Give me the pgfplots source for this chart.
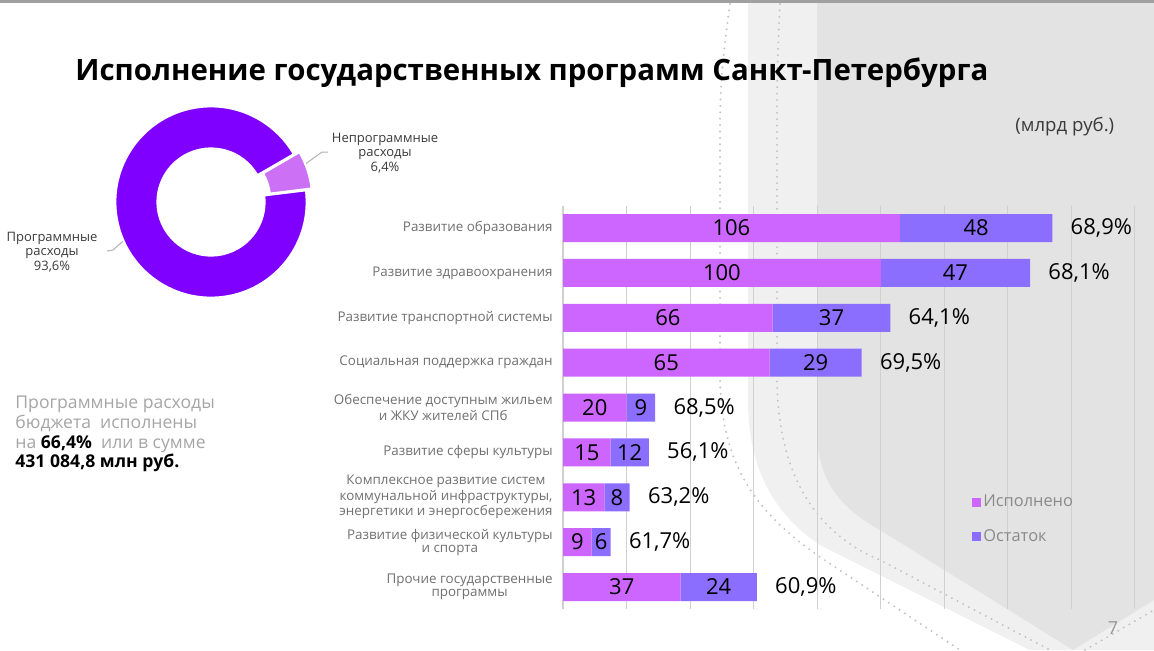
\documentclass[border=0pt]{standalone}
\usepackage{pgfplots}
\pgfplotsset{compat=1.18}
\usepackage{pgfplotstable}
\usepackage{fontspec}
\setmainfont{Open Sans}
\definecolor{cDone}{HTML}{CC66FF}
\definecolor{cRest}{HTML}{8C6EFF}
\definecolor{cMain}{HTML}{7F00FF}
\definecolor{cNon}{HTML}{CC70F5}
\definecolor{bgLight}{HTML}{F0F0F0}
\definecolor{bgDark}{HTML}{E3E3E3}
\definecolor{gridc}{HTML}{D0D0D0}
\definecolor{labc}{HTML}{707070}
\definecolor{textgray}{HTML}{A6A6A6}
\definecolor{legc}{HTML}{8A8A8A}
\definecolor{darkc}{HTML}{3A3A3A}
\definecolor{dotc}{HTML}{C4C4C4}
\definecolor{topbar}{HTML}{A0A0A0}

\pgfplotstableread{
idx done rest pct
0 106 48 68.9
1 100 47 68.1
2 66 37 64.1
3 65 29 69.5
4 20 9 68.5
5 15 12 56.1
6 13 8 63.2
7 9 6 61.7
8 37 24 60.9
}\progdata

\def\pctNon{6.4}
\def\pctProg{93.6}

\pgfplotsset{barframe/.style={
  at={(281.5pt,-102.78pt)}, anchor=north west,
  scale only axis, width=295.5pt, height=201.94pt,
  xmin=0, xmax=186, ymin=-0.5, ymax=8.5, y dir=reverse,
  /pgf/number format/assume math mode=true,
}}

\begin{document}
\begin{tikzpicture}
% ---------- background (pixel coordinates, y down) ----------
\begin{scope}[x=0.5pt, y=-0.5pt]
\fill[white] (0,0) rectangle (1154,650);
\fill[bgLight] (748,0) -- (748,400) .. controls (748,470) and (775,515) .. (820,545) -- (1030,650) -- (1154,650) -- (1154,0) -- cycle;
\fill[bgDark] (817,0) -- (817,430) .. controls (817,480) and (840,508) .. (880,530) -- (1073,650) -- (1154,600) -- (1154,0) -- cycle;
\draw[dotc, line width=1.1pt, line cap=round, dash pattern=on 0pt off 3.2pt]
  (730,4) .. controls (722,60) and (720,90) .. (720,130) -- (720,380) .. controls (722,470) and (760,515) .. (820,557) -- (960,650);
\draw[dotc, line width=1.1pt, line cap=round, dash pattern=on 0pt off 3.2pt]
  (780,4) .. controls (777,60) and (777,90) .. (777,130) -- (777,380) .. controls (778,480) and (820,535) .. (880,560) -- (1050,650);
\draw[dotc, line width=1.1pt, line cap=round, dash pattern=on 0pt off 3.2pt]
  (1085,650) -- (1154,610);
\fill[topbar] (0,0) rectangle (1154,3);

% ---------- texts ----------
\node[anchor=base west, inner sep=0pt, font=\fontsize{14.7}{18}\selectfont\bfseries] at (75,80)
  {Исполнение государственных программ Санкт-Петербурга};
\node[anchor=base west, inner sep=0pt, font=\fontsize{9.3}{10}\selectfont, text=darkc] at (1015,131) {(млрд руб.)};

\node[align=center, inner sep=0pt, font=\fontsize{6.5}{7.25}\selectfont, text=darkc] at (385,153)
  {Непрограммные\\расходы\\6,4\%};
\node[align=center, inner sep=0pt, font=\fontsize{6.5}{7.25}\selectfont, text=darkc] at (52,252)
  {Программные\\расходы\\93,6\%};
\draw[gray!60, line width=0.5pt] (290,175) -- (322,152) -- (328,152);
\draw[gray!60, line width=0.5pt] (140,226) -- (113,250) -- (107,251);

\begin{scope}[every node/.style={anchor=base west, inner sep=0pt, font=\fontsize{8.8}{10}\selectfont, text=textgray}]
\node at (15,408) {Программные расходы};
\node at (15,428) {бюджета\ \ исполнены};
\node at (15,448) {на \textcolor{black}{\bfseries 66,4\%}\ \ или в сумме};
\node at (15,467) {\textcolor{black}{\bfseries 431 084,8 млн руб.}};
\end{scope}

\node[inner sep=0pt, font=\fontsize{9}{10}\selectfont, text=gray!80] at (1113,628) {7};
\end{scope}

% ---------- donut ----------
\begin{scope}[shift={(105.5pt,-101pt)}]
\pgfmathsetmacro\aS{7}
\pgfmathsetmacro\aE{\aS+\pctNon*3.6}
\pgfmathsetmacro\aM{(\aS+\aE)/2}
\pgfmathsetmacro\aF{\aE+\pctProg*3.6}
\fill[cMain, draw=white, line width=1pt] (\aE:26.8pt) arc[start angle=\aE, end angle=\aF, radius=26.8pt]
   -- (\aF:47.8pt) arc[start angle=\aF, end angle=\aE, radius=47.8pt] -- cycle;
\begin{scope}[shift={(\aM:3pt)}]
\fill[cNon, draw=white, line width=1pt] (\aS:26.8pt) arc[start angle=\aS, end angle=\aE, radius=26.8pt]
   -- (\aE:47.8pt) arc[start angle=\aE, end angle=\aS, radius=47.8pt] -- cycle;
\end{scope}
\end{scope}

% ---------- bars ----------
\begin{axis}[barframe,
  xbar stacked, bar width=14pt,
  axis lines*=left,
  x axis line style={draw=none},
  y axis line style={draw=gridc, line width=0.6pt},
  xtick={0,20,...,180}, xticklabels={},
  xmajorgrids, major grid style={draw=gridc, line width=0.5pt},
  major tick length=0pt, tick style={draw=none},
  ytick={0,...,8},
  yticklabels={{Развитие образования},{Развитие здравоохранения},{Развитие транспортной системы},{Социальная поддержка граждан},{Обеспечение доступным жильем\\и ЖКУ жителей СПб},{Развитие сферы культуры},{Комплексное развитие систем\\коммунальной инфраструктуры,\\энергетики и энергосбережения},{Развитие физической культуры\\и спорта},{Прочие государственные\\программы}},
  yticklabel style={font=\fontsize{6.7}{6.6}\selectfont, text=labc, align=center, inner sep=0pt},
  yticklabel shift=5pt,
  legend style={at={(0.692,0.29)}, anchor=north west, draw=none, fill=none,
    font=\fontsize{8.2}{9.5}\selectfont, text=legc, row sep=8pt, inner sep=0pt,
    nodes={inner sep=1pt}},
  legend cell align=left,
  legend image code/.code={\fill[#1] (0pt,-2.25pt) rectangle (4.5pt,2.25pt);},
]
\addplot[fill=cDone, draw=none] table[x=done, y=idx] {\progdata};
\addplot[fill=cRest, draw=none] table[x=rest, y=idx] {\progdata};
\legend{Исполнено, Остаток}
\end{axis}

% ---------- labels overlay ----------
\begin{axis}[barframe, hide axis, clip=false, point meta=explicit,
  every node near coord/.append style={font=\fontsize{11}{12}\selectfont, text=black, inner sep=0pt},
]
\addplot[draw=none, mark=none, nodes near coords, nodes near coords align={center}]
  table[x expr=\thisrow{done}/2, y=idx, meta=done] {\progdata};
\addplot[draw=none, mark=none, nodes near coords, nodes near coords align={center}]
  table[x expr=\thisrow{done}+\thisrow{rest}/2, y=idx, meta=rest] {\progdata};
\addplot[draw=none, mark=none,
  nodes near coords={\pgfmathprintnumber[fixed,fixed zerofill,precision=1,use comma]{\pgfplotspointmeta}\%},
  nodes near coords align={anchor=west},
  every node near coord/.append style={xshift=9pt}]
  table[x expr=\thisrow{done}+\thisrow{rest}, y=idx, meta=pct] {\progdata};
\end{axis}

\pgfresetboundingbox
\path[use as bounding box] (0pt,0pt) rectangle (577pt,-325pt);
\end{tikzpicture}
\end{document}
